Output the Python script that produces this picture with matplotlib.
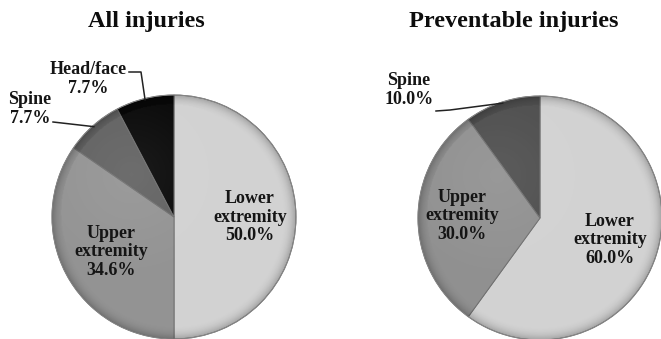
import numpy as np
import matplotlib
matplotlib.use("Agg")
import matplotlib.pyplot as plt
from matplotlib.patches import Circle

plt.rcParams['font.family'] = ['Liberation Serif', 'DejaVu Serif']
plt.rcParams['font.weight'] = 'bold'

# data
all_labels = ['Lower\nextremity', 'Upper\nextremity', 'Spine', 'Head/face']
all_pct = [50.0, 34.6, 7.7, 7.7]
all_colors = ['#d2d2d2', '#939393', '#616161', '#080808']

prev_labels = ['Lower\nextremity', 'Upper\nextremity', 'Spine']
prev_pct = [60.0, 30.0, 10.0]
prev_colors = ['#d2d2d2', '#909090', '#4e4e4e']

W, H = 661, 339
fig = plt.figure(figsize=(W / 100, H / 100), dpi=100)
ax = fig.add_axes([0, 0, 1, 1])

R = 122


def shade(ax, cx, cy, r):
    # darken toward the rim to give the pie a rounded look
    n = 300
    yy, xx = np.mgrid[-1:1:n * 1j, -1:1:n * 1j]
    d = np.sqrt(xx ** 2 + yy ** 2)
    a = np.clip((d - 0.88) / 0.12, 0, 1) ** 2.5 * 0.22
    hl = np.clip(1 - np.hypot(xx + 0.35, yy - 0.35) / 0.9, 0, 1) * 0.08
    img = np.zeros((n, n, 4))
    img[..., :3] = np.where((hl > a)[..., None], 1.0, 0.0)
    img[..., 3] = np.maximum(a, hl)
    im = ax.imshow(img, extent=(cx - r, cx + r, cy - r, cy + r), origin='lower',
                   zorder=3, interpolation='bilinear')
    im.set_clip_path(Circle((cx, cy), r, transform=ax.transData))


def draw(ax, pct, colors, cx, cy):
    wedges, _ = ax.pie(pct, colors=colors, startangle=90, counterclock=False,
                       center=(cx, cy), radius=R,
                       wedgeprops=dict(edgecolor='#707070', linewidth=0.7))
    for w in wedges:
        w.set_zorder(2)
    shade(ax, cx, cy, R)
    ax.add_patch(Circle((cx, cy), R, fill=False, ec='#8a8a8a', lw=0.6, zorder=4))
    return wedges


def rim_point(w, f=0.99):
    t = np.deg2rad((w.theta1 + w.theta2) / 2)
    return w.center[0] + f * w.r * np.cos(t), w.center[1] + f * w.r * np.sin(t)


lab = dict(ha='center', va='center', fontsize=13, linespacing=1.08,
           fontweight='bold', color='#151515', zorder=6)

# left pie
cxL, cyL = 174, H - 217
wl = draw(ax, all_pct, all_colors, cxL, cyL)
ax.text(146, H - 21, 'All injuries', ha='center', va='center', fontsize=17.5,
        fontweight='bold', color='#0d0d0d')
ax.text(250, H - 217, f'{all_labels[0]}\n{all_pct[0]:.1f}%', **lab)
ax.text(111, H - 252, f'{all_labels[1]}\n{all_pct[1]:.1f}%', **lab)
ax.text(30, H - 109, f'{all_labels[2]}\n{all_pct[2]:.1f}%', **lab)
ax.text(88, H - 79, f'{all_labels[3]}\n{all_pct[3]:.1f}%', **lab)
px, py = rim_point(wl[3])
ax.plot([129, 141, px], [H - 72, H - 72, py], color='#222222', lw=1.1, zorder=5)
px, py = rim_point(wl[2])
ax.plot([53, px], [H - 122, py], color='#222222', lw=1.1, zorder=5)

# right pie
cxR, cyR = 540, H - 218
wr = draw(ax, prev_pct, prev_colors, cxR, cyR)
ax.text(514, H - 21, 'Preventable injuries', ha='center', va='center',
        fontsize=17.5, fontweight='bold', color='#0d0d0d')
ax.text(610, H - 240, f'{prev_labels[0]}\n{prev_pct[0]:.1f}%', **lab)
ax.text(462, H - 216, f'{prev_labels[1]}\n{prev_pct[1]:.1f}%', **lab)
ax.text(409, H - 90, f'{prev_labels[2]}\n{prev_pct[2]:.1f}%', **lab)
px, py = rim_point(wr[2])
ax.plot([436, 450, px], [H - 111, H - 110, py], color='#222222', lw=1.1, zorder=5)

ax.set_xlim(0, W)
ax.set_ylim(0, H)
ax.set_aspect('equal')
ax.axis('off')

fig.savefig('out.png', dpi=100, facecolor='white')
